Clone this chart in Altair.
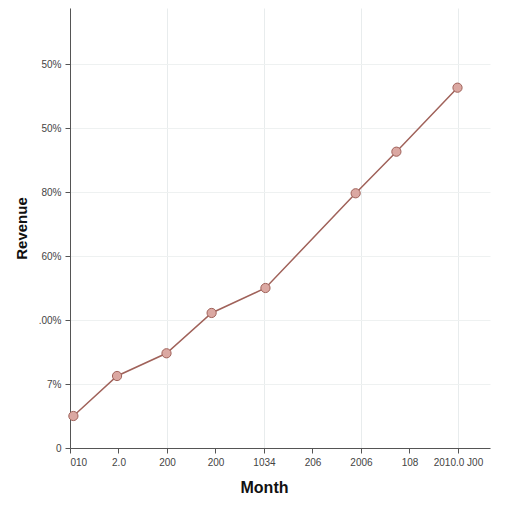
import altair as alt
import pandas as pd

# Data
x_pos = [0.07, 0.97, 1.99, 2.92, 4.03, 5.89, 6.73, 7.99]
values = [0.5, 1.125, 1.48, 2.11, 2.5, 3.98, 4.63, 5.63]

x_tick_labels = ["010", "2.0", "200", "200", "1034", "206", "2006", "108", "2010.0 J00"]
y_tick_labels = ["0", "7%", ".00%", "60%", "80%", "50%", "50%"]

df = pd.DataFrame({"x": x_pos, "v": values})

x_expr = "[" + ",".join("'%s'" % s for s in x_tick_labels) + "][datum.value]"
y_expr = "[" + ",".join("'%s'" % s for s in y_tick_labels) + "][datum.value]"

line_color = "#a0625a"
fill_color = "#dba8a2"

x_enc = alt.X(
    "x:Q",
    scale=alt.Scale(domain=[0, 8.66], nice=False, zero=False),
    axis=alt.Axis(
        values=list(range(9)),
        labelExpr=x_expr,
        title="Month",
        titleFontSize=16,
        titleFontWeight="bold",
        titleColor="#111",
        titlePadding=12,
        titleX=194,
        labelFontSize=10,
        labelColor="#444",
        labelPadding=4,
        tickSize=5,
        tickColor="#555",
        domainColor="#555",
        gridColor="#e8eced",
        gridOpacity={"condition": {"test": "datum.value % 2 === 0", "value": 1}, "value": 0},
    ),
)
y_enc = alt.Y(
    "v:Q",
    scale=alt.Scale(domain=[0, 6.875], nice=False),
    axis=alt.Axis(
        values=list(range(7)),
        labelExpr=y_expr,
        title="Revenue",
        titleFontSize=15,
        titleFontWeight="bold",
        titleColor="#111",
        titlePadding=9,
        labelFontSize=10,
        labelColor="#444",
        labelPadding=4,
        tickSize=5,
        tickColor="#555",
        domainColor="#555",
        gridColor="#eef1f1",
    ),
)

line = alt.Chart(df).mark_line(color=line_color, strokeWidth=1.5).encode(x=x_enc, y=y_enc)
pts = alt.Chart(df).mark_point(
    filled=True, fill=fill_color, stroke=line_color, strokeWidth=1, size=85, opacity=1, fillOpacity=1
).encode(x="x:Q", y="v:Q")

chart = (
    alt.layer(line, pts)
    .properties(
        width=420,
        height=440,
        autosize=alt.AutoSizeParams(type="none"),
        padding={"left": 62, "top": 0, "right": 14, "bottom": 56},
    )
    .configure(font="Liberation Sans")
    .configure_view(stroke=None)
)

chart.save("out.html", embed_options={"renderer": "svg", "actions": False})
